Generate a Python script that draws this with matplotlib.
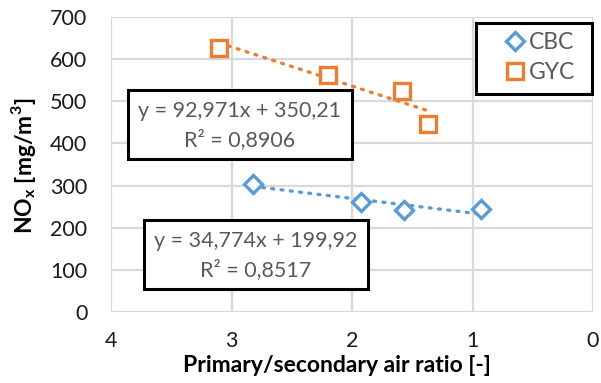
import numpy as np
import matplotlib
matplotlib.use("Agg")
import matplotlib.pyplot as plt
from matplotlib.patches import Rectangle

plt.rcParams['font.family'] = ['Lato', 'DejaVu Sans']

# Measured data
cbc_x = [2.82, 1.925, 1.57, 0.93]
cbc_y = [304, 260, 242, 244]
gyc_x = [3.10, 2.20, 1.585, 1.37]
gyc_y = [626, 562, 524, 446]

# Linear trendlines (slope, intercept, R²)
cbc_fit = (34.774, 199.92, 0.8517)
gyc_fit = (92.971, 350.21, 0.8906)

x_ticks = [4, 3, 2, 1, 0]
y_ticks = [0, 100, 200, 300, 400, 500, 600, 700]

blue = '#5B9BD5'
orange = '#ED7D31'
text_gray = '#595959'
grid_gray = '#D9D9D9'

W, H = 601, 383
fig = plt.figure(figsize=(W / 100, H / 100), dpi=100)
ax = fig.add_axes([111 / W, 1 - 312 / H, (593 - 111) / W, (312 - 17) / H])

ax.set_xlim(4, 0)
ax.set_ylim(0, 700)
ax.set_xticks(x_ticks)
ax.set_yticks(y_ticks)
ax.grid(True, color=grid_gray, linewidth=1.6)
ax.set_axisbelow(True)
for s in ax.spines.values():
    s.set_visible(False)
ax.tick_params(length=0, labelsize=15.5, colors='#1a1a1a')
ax.tick_params(axis='x', pad=14)
ax.tick_params(axis='y', pad=17)


def trend(xs, fit, color):
    slope, icpt, _ = fit
    xx = np.array([max(xs), min(xs)])
    ax.plot(xx, slope * xx + icpt, color=color, linestyle=(0, (0.6, 2.2)),
            linewidth=2.4, dash_capstyle='round', zorder=2)


trend(cbc_x, cbc_fit, blue)
trend(gyc_x, gyc_fit, orange)

ax.plot(cbc_x, cbc_y, linestyle='none', marker='D', markersize=9.5,
        markerfacecolor='white', markeredgecolor=blue, markeredgewidth=2.4,
        label='CBC', zorder=3, clip_on=False)
ax.plot(gyc_x, gyc_y, linestyle='none', marker='s', markersize=11.5,
        markerfacecolor='white', markeredgecolor=orange, markeredgewidth=2.4,
        label='GYC', zorder=3, clip_on=False)

# Legend entries without frame; the frame is drawn as a separate box beneath
leg = ax.legend(loc='center left', bbox_to_anchor=(505 / W, 1 - 57.5 / H),
                bbox_transform=fig.transFigure, fontsize=16.5, frameon=False,
                handlelength=0.85, handletextpad=0.2, borderpad=0.0,
                labelspacing=0.4, borderaxespad=0.0)
leg.set_zorder(6)
for t in leg.get_texts():
    t.set_color(text_gray)
ax.add_patch(Rectangle((476 / W, 1 - 94 / H), (592 - 476) / W, (94 - 23) / H,
                       transform=fig.transFigure, facecolor='white',
                       edgecolor='black', linewidth=2.2, zorder=4,
                       clip_on=False))


def eq_box(x0, y0, x1, y1, fit):
    slope, icpt, r2 = fit
    fig.add_artist(Rectangle((x0 / W, 1 - y1 / H), (x1 - x0) / W, (y1 - y0) / H,
                             transform=fig.transFigure, facecolor='white',
                             edgecolor='black', linewidth=2.2, zorder=5))
    cx = (x0 + x1) / 2 / W
    s1 = f"y = {slope:.3f}x + {icpt:.2f}".replace('.', ',')
    s2 = f"R² = {r2:.4f}".replace('.', ',')
    fig.text(cx, 1 - (y0 + 21) / H, s1, ha='center', va='center',
             fontsize=15.5, color=text_gray, zorder=6)
    fig.text(cx, 1 - (y0 + 50) / H, s2, ha='center', va='center',
             fontsize=15.5, color=text_gray, zorder=6)


eq_box(128, 90, 352, 159, gyc_fit)
eq_box(144, 220, 368, 289, cbc_fit)

fig.text(337 / W, 1 - 366 / H, 'Primary/secondary air ratio [-]',
         ha='center', va='center', fontsize=16.5, fontweight='bold')
fig.text(23 / W, 1 - 166 / H, r'NO$_\mathregular{x}$ [mg/m$^\mathregular{3}$]',
         ha='center', va='center', rotation=90, fontsize=16.5, fontweight='bold')

fig.savefig('out.png', dpi=100)
